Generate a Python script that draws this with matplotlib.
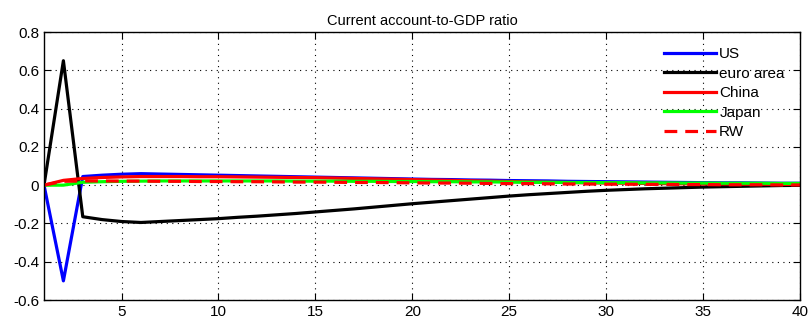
import matplotlib.pyplot as plt
from matplotlib.ticker import FixedLocator

plt.rcParams['font.family'] = ['Liberation Sans', 'DejaVu Sans']

periods = list(range(1, 41))

us = [0.0, -0.50, 0.045, 0.052, 0.057, 0.060, 0.058, 0.056, 0.054, 0.052,
      0.050, 0.048, 0.046, 0.044, 0.042, 0.040, 0.038, 0.036, 0.034, 0.032,
      0.030, 0.029, 0.027, 0.026, 0.024, 0.023, 0.022, 0.020, 0.019, 0.018,
      0.017, 0.016, 0.015, 0.014, 0.013, 0.012, 0.012, 0.011, 0.010, 0.010]
euro = [0.0, 0.65, -0.165, -0.180, -0.190, -0.195, -0.190, -0.185, -0.180, -0.175,
        -0.168, -0.162, -0.155, -0.148, -0.140, -0.132, -0.124, -0.115, -0.106, -0.097,
        -0.089, -0.081, -0.073, -0.065, -0.057, -0.050, -0.044, -0.038, -0.032, -0.027,
        -0.023, -0.019, -0.016, -0.013, -0.010, -0.008, -0.006, -0.004, -0.002, -0.001]
china = [0.0, 0.025, 0.035, 0.040, 0.043, 0.045, 0.045, 0.045, 0.044, 0.044,
         0.043, 0.042, 0.041, 0.040, 0.039, 0.037, 0.035, 0.033, 0.031, 0.029,
         0.027, 0.025, 0.023, 0.021, 0.019, 0.017, 0.015, 0.014, 0.012, 0.011,
         0.010, 0.009, 0.008, 0.007, 0.006, 0.006, 0.005, 0.005, 0.004, 0.004]
japan = [0.0, 0.0, 0.015, 0.018, 0.020, 0.021, 0.022, 0.022, 0.022, 0.022,
         0.022, 0.022, 0.022, 0.021, 0.021, 0.021, 0.020, 0.020, 0.019, 0.019,
         0.018, 0.018, 0.017, 0.017, 0.016, 0.015, 0.015, 0.014, 0.014, 0.013,
         0.013, 0.012, 0.012, 0.011, 0.011, 0.010, 0.010, 0.010, 0.009, 0.009]
rw = [0.0, 0.020, 0.022, 0.022, 0.021, 0.021, 0.020, 0.020, 0.019, 0.019,
      0.018, 0.018, 0.017, 0.016, 0.016, 0.015, 0.014, 0.014, 0.013, 0.012,
      0.011, 0.011, 0.010, 0.009, 0.008, 0.008, 0.007, 0.006, 0.006, 0.005,
      0.005, 0.004, 0.004, 0.003, 0.003, 0.002, 0.002, 0.002, 0.001, 0.001]

y_ticks = [-0.6, -0.4, -0.2, 0, 0.2, 0.4, 0.6, 0.8]
y_labels = ['-0.6', '-0.4', '-0.2', '0', '0.2', '0.4', '0.6', '0.8']
x_ticks = [5, 10, 15, 20, 25, 30, 35, 40]

fig = plt.figure(figsize=(8.09, 3.21), dpi=100)
ax = fig.add_axes([0.0544, 0.0654, 0.9345, 0.8349])

lw = 2.3
ax.plot(periods, us, color='#0000ff', lw=lw, label='US')
ax.plot(periods, euro, color='black', lw=lw, label='euro area')
ax.plot(periods, china, color='#ff0000', lw=lw, label='China')
ax.plot(periods, japan, color='#00ff00', lw=lw, label='Japan')
ax.plot(periods, rw, color='#ff0000', lw=lw, ls=(0, (4, 2.5)), label='RW')

ax.set_xlim(1, 40)
ax.set_ylim(-0.6, 0.8)
ax.xaxis.set_major_locator(FixedLocator(x_ticks))
ax.set_yticks(y_ticks)
ax.set_yticklabels(y_labels)
ax.tick_params(direction='in', top=True, right=True, labelsize=11, length=5)
ax.grid(True, color='black', ls=(0, (1, 4)), lw=0.8)
for s in ax.spines.values():
    s.set_linewidth(1.0)

ax.set_title('Current account-to-GDP ratio', fontsize=10.5, pad=5)

leg = ax.legend(loc='upper right', frameon=False, fontsize=11, handlelength=3.4,
                handletextpad=0.2, labelspacing=0.36, borderaxespad=0.6,
                bbox_to_anchor=(1.0, 1.0))

fig.savefig('out.png', dpi=100)
